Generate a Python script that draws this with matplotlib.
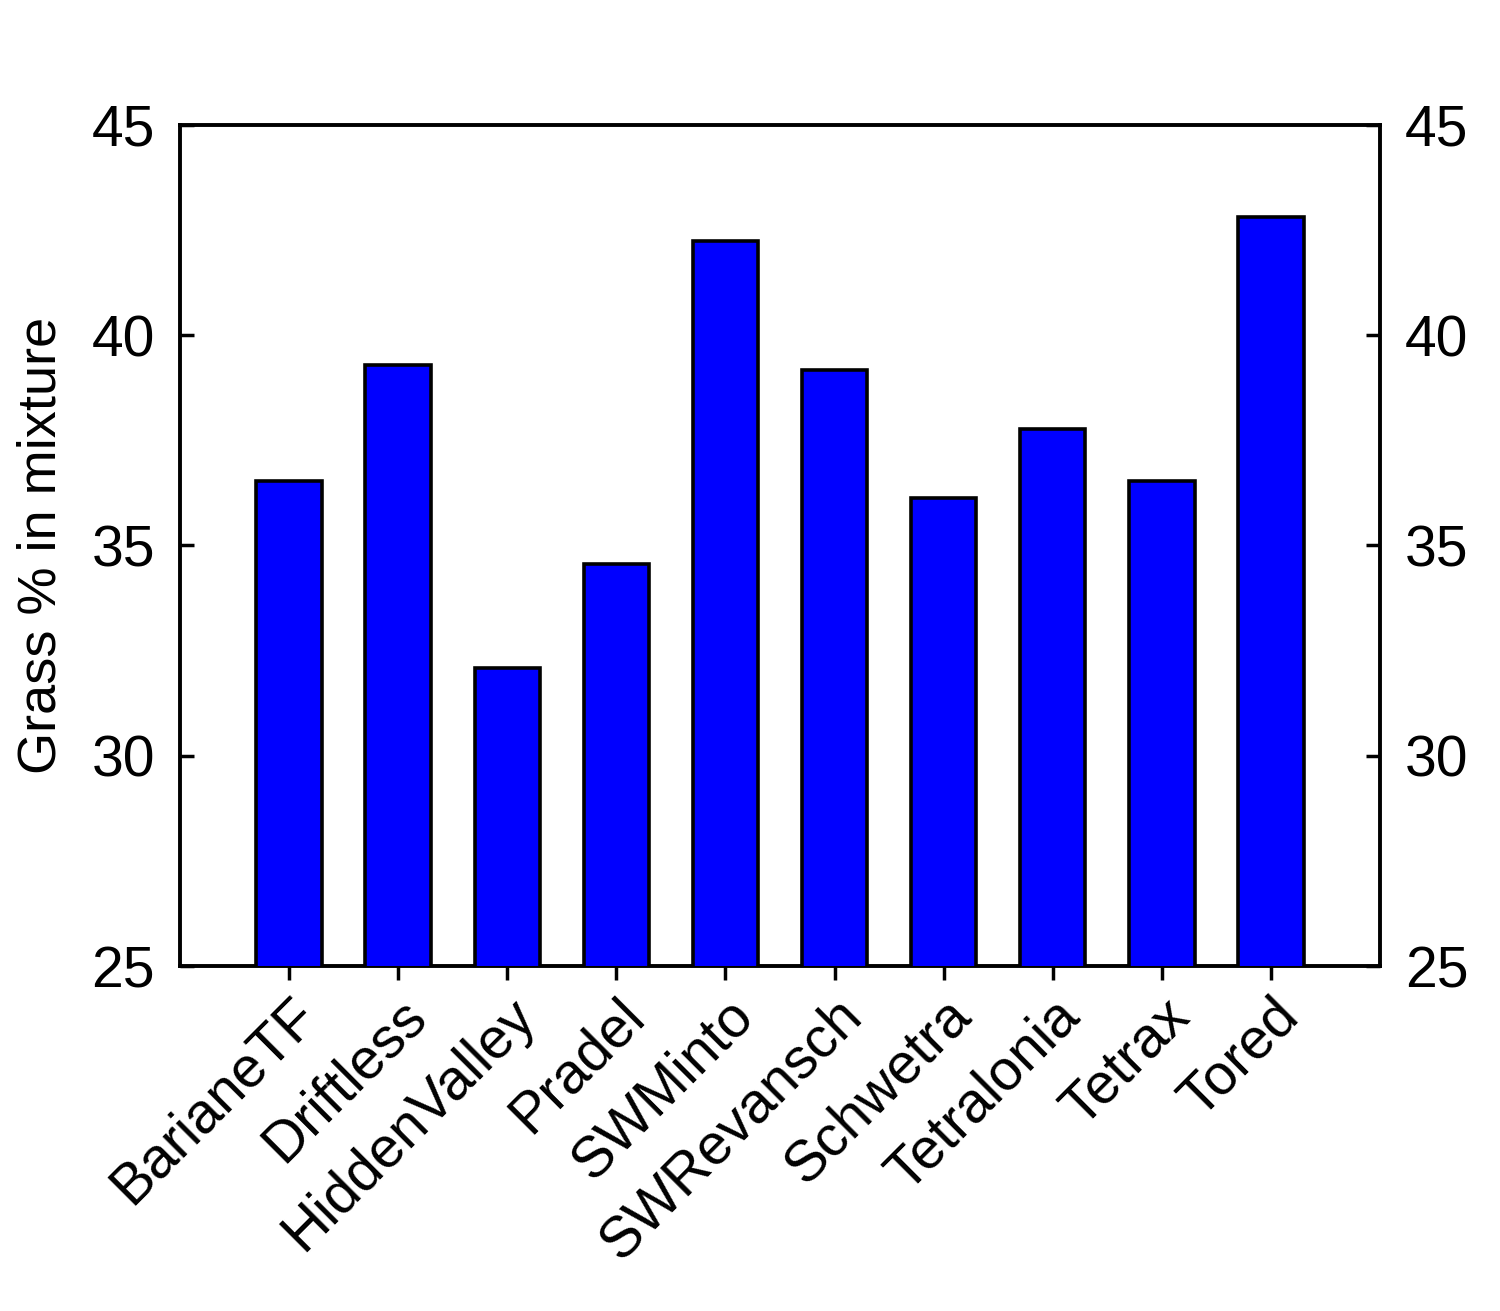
import matplotlib
matplotlib.use("Agg")
import matplotlib.pyplot as plt
import numpy as np

categories = ["BarianeTF", "Driftless", "HiddenValley", "Pradel", "SWMinto",
              "SWRevansch", "Schwetra", "Tetralonia", "Tetrax", "Tored"]
values = [36.53, 39.29, 32.09, 34.56, 42.24, 39.17, 36.13, 37.77, 36.53, 42.81]
yticks = [25, 30, 35, 40, 45]

plt.rcParams['font.family'] = ['Liberation Sans', 'DejaVu Sans']

fig = plt.figure(figsize=(15, 13.11), dpi=100)
ax = fig.add_axes([0.12, 1 - 966/1311, 0.80, (966 - 125)/1311])

x = np.arange(len(categories))
ax.bar(x, values, width=0.6, color='#0000ff', edgecolor='black', linewidth=2.6, zorder=3)

ax.set_xlim(-1, 10)
ax.set_ylim(25, 45)
ax.set_yticks(yticks)
ax.set_xticks(x)
ax.set_xticklabels(categories, rotation=45, ha='right', rotation_mode='anchor', fontsize=41)
ax.tick_params(axis='x', direction='out', length=10, width=2.5, pad=6)
ax.tick_params(axis='y', direction='in', length=10, width=2.5, labelsize=41, pad=18,
               right=True, labelright=True)
for s in ax.spines.values():
    s.set_linewidth(2.8)
ax.set_ylabel("Grass % in mixture", fontsize=39, labelpad=18)

fig.savefig("out.png", dpi=100)
